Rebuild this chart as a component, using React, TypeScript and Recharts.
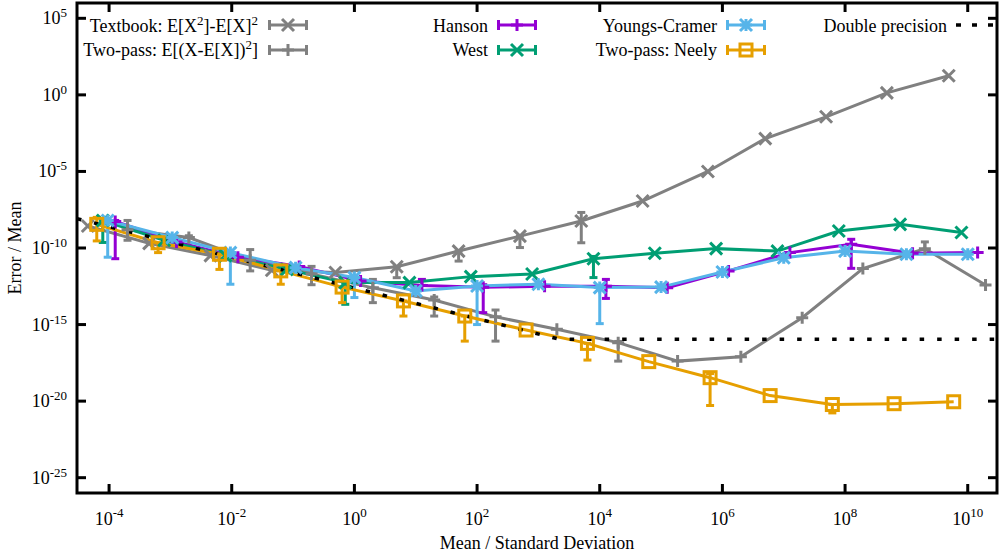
import { ComposedChart, Line, XAxis, YAxis, ErrorBar, ReferenceArea, Legend, Label } from "recharts";

const FONT = '"Liberation Serif", "Times New Roman", Times, serif';

const GRAY = "#808080";
const PURPLE = "#9400d3";
const GREEN = "#009e73";
const BLUE = "#56b4e9";
const ORANGE = "#e69f00";

// plot box in page pixels (gnuplot draws ticks inward, so we place them ourselves)
const LEFT = 77;
const RIGHT = 997;
const TOP = 3;
const BOTTOM = 493;

// [mean / std, error / mean, lower end of bar, upper end of bar]
type Row = [number, number, number | null, number | null];

const TEXTBOOK: Row[] = [
    [4.5e-5, 2.75e-9, null, null],
    [4.5e-4, 2.0e-10, null, null],
    [4.5e-3, 3.2e-11, null, null],
    [4.5e-2, 3.5e-12, null, null],
    [0.49, 2.5e-12, null, null],
    [4.9, 6.0e-12, 1.15e-12, null],
    [50, 6.3e-11, 1.4e-11, null],
    [500, 6.0e-10, 1.07e-10, null],
    [5.0e3, 5.8e-9, 2.2e-10, 2.1e-8],
    [5.0e4, 1.17e-7, null, null],
    [5.8e5, 1.0e-5, null, null],
    [5.0e6, 1.4e-3, null, null],
    [4.9e7, 3.7e-2, null, null],
    [4.8e8, 1.35, null, null],
    [4.9e9, 17.8, null, null],
];

const TWO_PASS: Row[] = [
    [2e-4, 1.58e-9, 3.2e-10, 6.3e-9],
    [2e-3, 4.8e-10, 1.07e-10, 6.3e-10],
    [2e-2, 1.58e-11, 3.2e-12, 7.9e-11],
    [0.2, 2.0e-12, 4.0e-13, 6.3e-12],
    [2, 2.5e-13, 2.7e-14, 8.9e-13],
    [20, 4.0e-14, 3.6e-15, 6.3e-14],
    [200, 3.2e-15, 8.3e-17, 8.9e-15],
    [2e3, 4.9e-16, null, null],
    [2e4, 6.6e-17, 4.1e-18, 7.9e-17],
    [1.86e5, 4.1e-18, null, null],
    [2e6, 7.9e-18, null, null],
    [2e7, 2.8e-15, null, null],
    [1.95e8, 4.5e-12, null, null],
    [2e9, 9.1e-11, 7.9e-11, 2.5e-10],
    [1.95e10, 3.8e-13, null, null],
];

const HANSON: Row[] = [
    [1.26e-4, 5.4e-9, 2.0e-11, 6.3e-9],
    [1.26e-3, 2.5e-10, null, null],
    [1.26e-2, 2.5e-11, null, null],
    [0.126, 6.3e-12, null, null],
    [1.26, 6.9e-13, null, null],
    [12.6, 3.6e-13, null, 8.9e-13],
    [126, 2.7e-13, 6.0e-15, 4.0e-13],
    [1.26e3, 3.2e-13, null, null],
    [1.26e4, 3.2e-13, 5.1e-14, 8.9e-13],
    [1.26e5, 2.5e-13, null, null],
    [1.26e6, 3.2e-12, null, null],
    [1.26e7, 5.0e-11, null, null],
    [1.26e8, 1.74e-10, 4.7e-12, 3.7e-10],
    [1.26e9, 4.5e-11, null, null],
    [1.45e10, 5.0e-11, null, null],
];

const WEST: Row[] = [
    [7.9e-5, 6.3e-9, 2.3e-10, null],
    [7.9e-4, 3.2e-10, null, null],
    [7.9e-3, 3.2e-11, null, null],
    [7.9e-2, 4.0e-12, null, null],
    [0.71, 5.5e-13, 2.1e-14, null],
    [7.9, 5.5e-13, null, null],
    [79, 1.35e-12, null, null],
    [790, 2.0e-12, null, null],
    [7.9e3, 2.0e-11, 1.17e-12, 2.8e-11],
    [7.9e4, 4.5e-11, null, null],
    [7.9e5, 9.1e-11, null, null],
    [7.9e6, 6.3e-11, null, null],
    [7.9e7, 1.29e-9, null, null],
    [7.9e8, 3.5e-9, null, null],
    [7.9e9, 1.02e-9, null, null],
];

const YOUNGS_CRAMER: Row[] = [
    [9.5e-5, 6.3e-9, 2.5e-11, null],
    [1.07e-3, 4.8e-10, null, null],
    [9.5e-3, 5.0e-11, 4.3e-13, null],
    [0.11, 5.2e-12, null, null],
    [1, 1.17e-12, 5.8e-14, null],
    [10, 1.58e-13, null, null],
    [100, 3.3e-13, 1.0e-15, null],
    [1e3, 4.3e-13, null, null],
    [1e4, 2.6e-13, 1.15e-15, null],
    [1e5, 2.8e-13, null, null],
    [1e6, 2.7e-12, null, null],
    [1e7, 2.3e-11, null, null],
    [1e8, 6.3e-11, null, null],
    [1e9, 3.9e-11, null, null],
    [1e10, 3.9e-11, null, null],
];

const NEELY: Row[] = [
    [6.3e-5, 3.5e-9, 2.9e-10, 1.0e-8],
    [6.3e-4, 2.2e-10, 5.0e-11, null],
    [6.3e-3, 3.9e-11, 4.0e-12, null],
    [6.3e-2, 3.2e-12, 4.3e-13, null],
    [0.63, 2.8e-13, 2.7e-14, null],
    [6.3, 3.5e-14, 3.6e-15, null],
    [63, 3.6e-15, 8.3e-17, null],
    [630, 4.4e-16, null, null],
    [6.3e3, 5.9e-17, 4.8e-18, null],
    [6.3e4, 3.8e-18, null, null],
    [6.3e5, 3.4e-19, 5.2e-21, 6.3e-19],
    [6.0e6, 2.3e-20, null, null],
    [6.2e7, 6.0e-21, 1.7e-21, null],
    [6.3e8, 6.8e-21, null, null],
    [5.9e9, 9.1e-21, null, null],
];

const DOUBLE_PRECISION: [number, number][] = [
    [3e-5, 8.3e-9],
    [2.2e3, 1.1e-16],
    [3e10, 1.1e-16],
];

const X_TICKS = [1e-4, 1e-2, 1, 1e2, 1e4, 1e6, 1e8, 1e10];
const Y_TICKS = [1e5, 1, 1e-5, 1e-10, 1e-15, 1e-20, 1e-25];
const X_DOMAIN = [3e-5, 3e10];
const Y_DOMAIN = [1e-26, 1e6];

type Shape = "x" | "plus" | "star" | "square";

const SERIES: { name: string; rows: Row[]; color: string; shape: Shape }[] = [
    { name: "textbook", rows: TEXTBOOK, color: GRAY, shape: "x" },
    { name: "twopass", rows: TWO_PASS, color: GRAY, shape: "plus" },
    { name: "hanson", rows: HANSON, color: PURPLE, shape: "plus" },
    { name: "west", rows: WEST, color: GREEN, shape: "x" },
    { name: "youngs", rows: YOUNGS_CRAMER, color: BLUE, shape: "star" },
    { name: "neely", rows: NEELY, color: ORANGE, shape: "square" },
];

const toPoints = (rows: Row[]) =>
    rows.map(([x, y, lo, hi]) => ({
        x,
        y,
        err: lo == null && hi == null ? null : [y - (lo ?? y), (hi ?? y) - y],
    }));

function Marker({ shape, color, cx, cy }: { shape: Shape; color: string; cx: number; cy: number }) {
    const s = 6;
    const cross = `M${cx - s},${cy - s}L${cx + s},${cy + s}M${cx - s},${cy + s}L${cx + s},${cy - s}`;
    const plus = `M${cx - s},${cy}L${cx + s},${cy}M${cx},${cy - s}L${cx},${cy + s}`;
    if (shape === "square") {
        return <rect x={cx - 6} y={cy - 6} width={12} height={12} fill="none" stroke={color} strokeWidth={3} />;
    }
    const d = shape === "x" ? cross : shape === "plus" ? plus : cross + plus;
    return <path d={d} fill="none" stroke={color} strokeWidth={3} />;
}

const dotFor = (name: string, shape: Shape, color: string) => (p: any) =>
    (
        <g key={`${name}-${p.index}`}>
            <Marker shape={shape} color={color} cx={p.cx} cy={p.cy} />
        </g>
    );

function XTick({ x, payload }: any) {
    const e = Math.round(Math.log10(payload.value));
    return (
        <g>
            <line x1={x} x2={x} y1={BOTTOM} y2={BOTTOM - 9} stroke="#000" strokeWidth={3} />
            <line x1={x} x2={x} y1={TOP} y2={TOP + 9} stroke="#000" strokeWidth={3} />
            <text x={x} y={BOTTOM + 32} textAnchor="middle" fontFamily={FONT} fontSize={18} fill="#000">
                10<tspan dy={-8} fontSize={13}>{e}</tspan>
            </text>
        </g>
    );
}

function YTick({ y, payload }: any) {
    const e = Math.round(Math.log10(payload.value));
    return (
        <g>
            <line x1={LEFT} x2={LEFT + 9} y1={y} y2={y} stroke="#000" strokeWidth={3} />
            <line x1={RIGHT} x2={RIGHT - 9} y1={y} y2={y} stroke="#000" strokeWidth={3} />
            <text x={67} y={y + 6} textAnchor="end" fontFamily={FONT} fontSize={18} fill="#000">
                10<tspan dy={-7} fontSize={13}>{e}</tspan>
            </text>
        </g>
    );
}

/** Muestra de la leyenda al estilo gnuplot: línea con topes y el marcador en medio. */
function Sample({ x, y, color, shape }: { x: number; y: number; color: string; shape: Shape }) {
    return (
        <g>
            <line x1={x} x2={x + 40} y1={y} y2={y} stroke={color} strokeWidth={3} />
            <line x1={x + 1.5} x2={x + 1.5} y1={y - 5} y2={y + 5} stroke={color} strokeWidth={3} />
            <line x1={x + 38.5} x2={x + 38.5} y1={y - 5} y2={y + 5} stroke={color} strokeWidth={3} />
            <Marker shape={shape} color={color} cx={x + 20} cy={y} />
        </g>
    );
}

function KeyBox() {
    const t = { fontFamily: FONT, fontSize: 18, fill: "#000", textAnchor: "end" as const };
    return (
        <svg width={1001} height={66} style={{ display: "block" }}>
            <text x={258} y={31.5} {...t}>
                Textbook: E[X<tspan dy={-7} fontSize={13}>2</tspan>
                <tspan dy={7}>]-E[X]</tspan>
                <tspan dy={-7} fontSize={13}>2</tspan>
            </text>
            <Sample x={268} y={25} color={GRAY} shape="x" />
            <text x={258} y={56} {...t}>
                Two-pass: E[(X-E[X])<tspan dy={-7} fontSize={13}>2</tspan>
                <tspan dy={7}>]</tspan>
            </text>
            <Sample x={268} y={50} color={GRAY} shape="plus" />

            <text x={488} y={31.5} {...t}>Hanson</text>
            <Sample x={497} y={25} color={PURPLE} shape="plus" />
            <text x={488} y={56} {...t}>West</text>
            <Sample x={497} y={50} color={GREEN} shape="x" />

            <text x={717} y={31.5} {...t}>Youngs-Cramer</text>
            <Sample x={726} y={25} color={BLUE} shape="star" />
            <text x={717} y={56} {...t}>Two-pass: Neely</text>
            <Sample x={726} y={50} color={ORANGE} shape="square" />

            <text x={947} y={31.5} {...t}>Double precision</text>
            <line x1={956} x2={994} y1={25} y2={25} stroke="#000" strokeWidth={3.5} strokeDasharray="5 11" />
        </svg>
    );
}

export default function App() {
    const dp = DOUBLE_PRECISION.map(([x, y]) => ({ x, y }));
    return (
        <div style={{ position: "absolute", left: 0, top: 0, width: 1001, height: 553, background: "#fff" }}>
            <ComposedChart width={1001} height={553} margin={{ top: TOP, right: 1001 - RIGHT, bottom: 0, left: 0 }}>
                <XAxis
                    dataKey="x"
                    type="number"
                    scale="log"
                    domain={X_DOMAIN}
                    allowDataOverflow
                    ticks={X_TICKS}
                    interval={0}
                    height={60}
                    axisLine={false}
                    tickLine={false}
                    tick={(p: any) => <XTick {...p} />}
                >
                    <Label
                        content={() => (
                            <text x={537} y={549} textAnchor="middle" fontFamily={FONT} fontSize={18} fill="#000">
                                Mean / Standard Deviation
                            </text>
                        )}
                    />
                </XAxis>
                <YAxis
                    type="number"
                    scale="log"
                    domain={Y_DOMAIN}
                    allowDataOverflow
                    ticks={Y_TICKS}
                    interval={0}
                    width={LEFT}
                    axisLine={false}
                    tickLine={false}
                    tick={(p: any) => <YTick {...p} />}
                >
                    <Label
                        content={() => (
                            <text
                                x={21}
                                y={248}
                                transform="rotate(-90 21 248)"
                                textAnchor="middle"
                                fontFamily={FONT}
                                fontSize={18}
                                fill="#000"
                            >
                                Error / Mean
                            </text>
                        )}
                    />
                </YAxis>
                <Legend
                    layout="horizontal"
                    verticalAlign="middle"
                    align="center"
                    wrapperStyle={{ top: 0, left: 0, width: 1001, height: 66 }}
                    content={() => <KeyBox />}
                />
                {SERIES.map((s) => (
                    <Line
                        key={s.name}
                        data={toPoints(s.rows)}
                        dataKey="y"
                        stroke={s.color}
                        strokeWidth={3}
                        dot={dotFor(s.name, s.shape, s.color)}
                        activeDot={false}
                        isAnimationActive={false}
                    >
                        <ErrorBar
                            dataKey="err"
                            direction="y"
                            width={4}
                            stroke={s.color}
                            strokeWidth={3}
                            isAnimationActive={false}
                        />
                    </Line>
                ))}
                <Line
                    data={dp}
                    dataKey="y"
                    stroke="#000"
                    strokeWidth={3.5}
                    strokeDasharray="4.5 13"
                    dot={false}
                    activeDot={false}
                    isAnimationActive={false}
                />
                <ReferenceArea
                    x1={X_DOMAIN[0]}
                    x2={X_DOMAIN[1]}
                    y1={Y_DOMAIN[0]}
                    y2={Y_DOMAIN[1]}
                    fill="none"
                    stroke="#000"
                    strokeWidth={3}
                    ifOverflow="visible"
                />
            </ComposedChart>
        </div>
    );
}
